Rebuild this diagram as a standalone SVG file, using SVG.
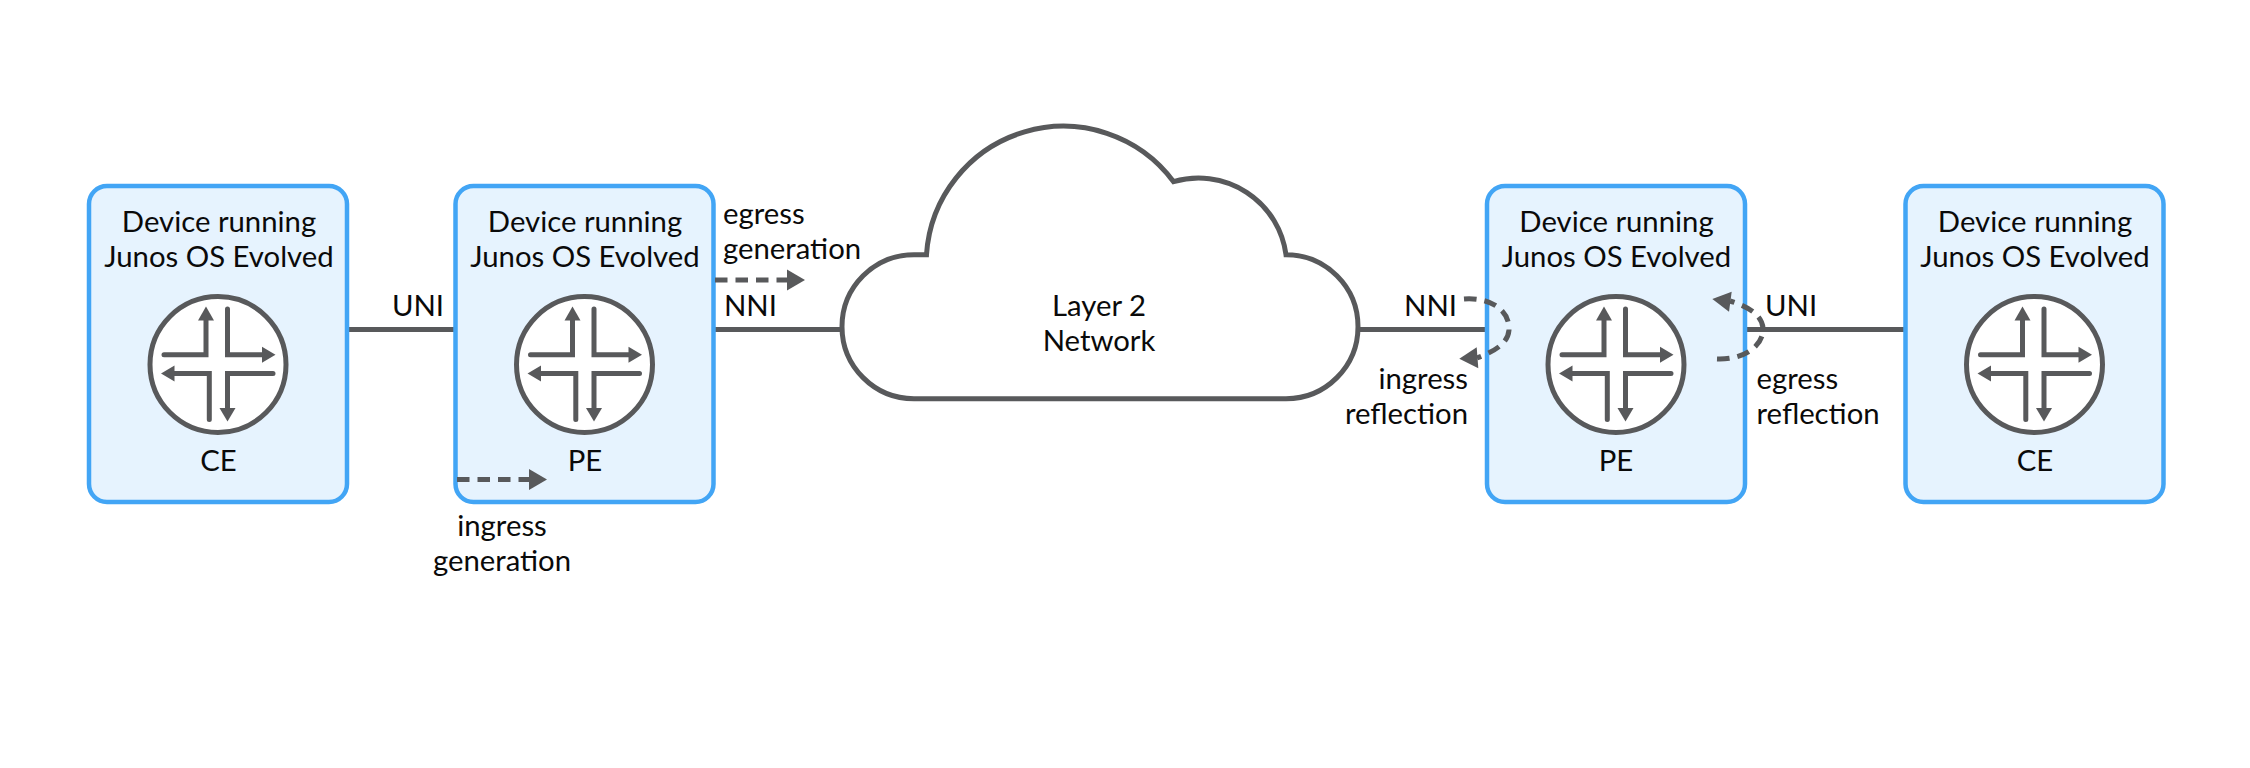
<svg xmlns="http://www.w3.org/2000/svg" width="2250" height="768" viewBox="0 0 2250 768">
<style>
text{font-family:"Lato","Carlito","Liberation Sans",sans-serif;font-size:29.3px;fill:#0a0a0a;font-variant-ligatures:common-ligatures discretionary-ligatures}
.m{text-anchor:middle}.e{text-anchor:end}
.box{fill:#e6f3fe;stroke:#42a5f5;stroke-width:4.5}
.ln{fill:none;stroke:#58595b;stroke-width:5}
.ds{fill:none;stroke:#58595b;stroke-width:5;stroke-dasharray:12.5 8}
.hd{fill:#58595b;stroke:none}
.ra{fill:none;stroke:#58595b;stroke-width:5;stroke-linecap:round}
.rc{fill:#fff;stroke:#58595b;stroke-width:5}
</style>
<defs>
<g id="router">
<circle class="rc" r="68"/>
<path class="ra" d="M-54,-9.8H-12V-47"/>
<path class="ra" d="M9.5,-55.5V-9.8H46"/>
<path class="ra" d="M-46,9H-8.7V55"/>
<path class="ra" d="M55,9H9.5V46"/>
<polygon class="hd" points="-12,-58 -4,-44 -20,-44"/>
<polygon class="hd" points="57.500,-9.800 44,-17.800 44,-1.800"/>
<polygon class="hd" points="-57,9 -43.500,1 -43.500,17"/>
<polygon class="hd" points="9.500,57 1.500,43.500 17.500,43.500"/>
</g>
</defs>
<g id="connectors">
<path class="ln" d="M347,329.500H455"/>
<path class="ln" d="M713,329.500H845"/>
<path class="ln" d="M1355,329.500H1487"/>
<path class="ln" d="M1745,329.500H1905"/>
</g>
<g id="cloud">
<path d="M914,398.700A72,72 0 0 1 914,254.700H926.500A137.200,137.200 0 0 1 1173.600,181.700A88.200,88.200 0 0 1 1286,254.700A72,72 0 0 1 1286,398.700Z" fill="#fff" stroke="#58595b" stroke-width="5"/>
<text class="m" x="1099" y="316">Layer 2</text>
<text class="m" x="1099" y="351">Network</text>
</g>
<g id="ce1">
<rect class="box" x="89" y="186" width="258" height="316" rx="18"/>
<text class="m" x="219" y="232">Device running</text>
<text class="m" x="219" y="267">Junos OS Evolved</text>
<use href="#router" x="218" y="364.500"/>
<text class="m" x="218.500" y="470.500">CE</text>
</g>
<g id="pe1">
<rect class="box" x="455.500" y="186" width="258" height="316" rx="18"/>
<text class="m" x="585" y="232">Device running</text>
<text class="m" x="585" y="267">Junos OS Evolved</text>
<use href="#router" x="584.500" y="364.500"/>
<text class="m" x="585" y="470.500">PE</text>
</g>
<g id="pe2">
<rect class="box" x="1487" y="186" width="258" height="316" rx="18"/>
<text class="m" x="1616.500" y="232">Device running</text>
<text class="m" x="1616.500" y="267">Junos OS Evolved</text>
<use href="#router" x="1616" y="364.500"/>
<text class="m" x="1616" y="470.500">PE</text>
</g>
<g id="ce2">
<rect class="box" x="1905.500" y="186" width="258" height="316" rx="18"/>
<text class="m" x="2035" y="232">Device running</text>
<text class="m" x="2035" y="267">Junos OS Evolved</text>
<use href="#router" x="2034.500" y="364.500"/>
<text class="m" x="2035" y="470.500">CE</text>
</g>
<g id="flows">
<path class="ds" d="M715,280H788"/><polygon class="hd" points="805,280 787,269.500 787,290.500"/>
<path class="ds" d="M457,479.500H530"/><polygon class="hd" points="547,479.500 529,469 529,490"/>
<path class="ds" d="M1464,299C1490,297 1510,310 1509,330C1508,342 1498,350 1477,358"/>
<polygon class="hd" points="1459.300,358.700 1476.700,347.300 1478.300,368.300"/>
<path class="ds" d="M1717,359C1745,360 1764,345 1763,328C1762,316 1750,307 1730,301"/>
<polygon class="hd" points="1712.300,299 1731.700,291.700 1729,311.700"/>
</g>
<g id="labels">
<text class="m" x="418" y="316">UNI</text>
<text x="724" y="316">NNI</text>
<text x="723" y="224">egress</text>
<text x="723" y="259">generation</text>
<text class="m" x="502" y="536">ingress</text>
<text class="m" x="502" y="571">generation</text>
<text class="e" x="1457" y="316">NNI</text>
<text class="e" x="1468" y="389">ingress</text>
<text class="e" x="1468" y="424">reflection</text>
<text x="1765" y="316">UNI</text>
<text x="1756.500" y="389">egress</text>
<text x="1756.500" y="424">reflection</text>
</g>
</svg>
